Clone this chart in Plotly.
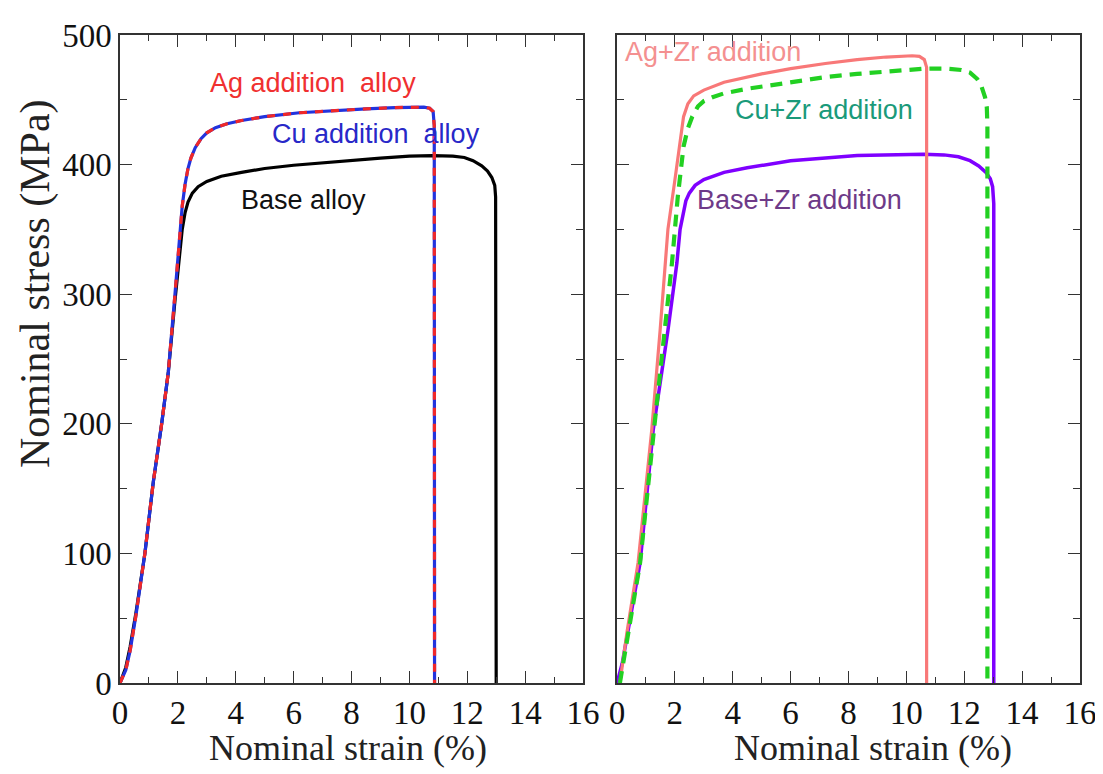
import plotly.graph_objects as go

# ---- data (nominal strain %, nominal stress MPa) ----
base_x = [0, 0.2, 0.35, 0.55, 0.86, 1.15, 1.44, 1.67, 1.9, 2.05, 2.15, 2.25, 2.35, 2.5, 2.7, 3.0, 3.5, 4.2, 5.0, 6.0, 7.0, 8.0, 9.0, 10.0, 10.8, 11.5, 11.9, 12.2, 12.5, 12.7, 12.85, 12.95, 12.98, 13.0]
base_y = [0, 12, 28, 54, 100, 155, 200, 240, 295, 330, 350, 363, 371, 378, 383, 387, 391, 394, 397, 399.5, 401.5, 403.5, 405, 406.5, 407, 406.5, 405.5, 403, 399, 395, 390, 384, 375, 0]

addn_x = [0, 0.2, 0.35, 0.55, 0.86, 1.15, 1.44, 1.67, 1.9, 2.05, 2.15, 2.25, 2.35, 2.45, 2.6, 2.8, 3.0, 3.3, 3.7, 4.2, 5.0, 6.2, 7.5, 8.5, 9.5, 10.5, 10.7, 10.82, 10.86, 10.87]
addn_y = [0, 10, 25, 52, 100, 155, 200, 240, 300, 345, 368, 385, 397, 405, 413, 420, 424.5, 428.5, 431.5, 434, 437, 440, 442, 443, 444, 444.3, 443.5, 441, 430, 0]

agzr_x = [0.1, 0.35, 0.73, 1.2, 1.49, 1.76, 2.0, 2.15, 2.3, 2.45, 2.65, 3.0, 3.7, 5.0, 6.0, 7.2, 8.3, 9.3, 10.2, 10.45, 10.62, 10.7, 10.7]
agzr_y = [0, 40, 93, 195, 272, 350, 388, 415, 437, 447, 453, 457.5, 463.5, 470, 474, 478, 481, 483, 484, 483.5, 481, 475, 0]

cuzr_x = [0.1, 0.4, 0.8, 1.3, 1.66, 1.9, 2.1, 2.3, 2.45, 2.6, 2.8, 3.0, 3.3, 3.7, 4.5, 6.0, 7.2, 8.3, 9.5, 10.6, 11.4, 11.9, 12.2, 12.45, 12.6, 12.72, 12.78, 12.8, 12.8]
cuzr_y = [0, 40, 93, 200, 272, 324, 375, 414, 428, 437, 445, 449, 452, 455, 458.5, 463.5, 467.5, 470, 472.5, 474, 474, 473, 471, 466, 460, 452, 444, 430, 0]

bzr_x = [0, 0.18, 0.8, 1.25, 1.76, 2.07, 2.18, 2.28, 2.38, 2.5, 2.7, 3.0, 3.7, 4.5, 6.0, 8.3, 10.6, 11.3, 11.8, 12.2, 12.5, 12.75, 12.9, 12.98, 13.02, 13.02]
bzr_y = [0, 15, 93, 195, 272, 324, 350, 363, 372, 378, 384, 388.5, 394, 397.5, 403, 407, 408, 407.5, 406, 403, 399, 394, 389, 383, 370, 0]

x_ticks = [0, 2, 4, 6, 8, 10, 12, 14, 16]
y_ticks = [0, 100, 200, 300, 400, 500]

fig = go.Figure()

# left panel
fig.add_trace(go.Scatter(x=base_x, y=base_y, mode="lines", line=dict(color="black", width=3.2), xaxis="x", yaxis="y", showlegend=False))
fig.add_trace(go.Scatter(x=addn_x, y=addn_y, mode="lines", line=dict(color="#2233DD", width=3.2), xaxis="x", yaxis="y", showlegend=False))
fig.add_trace(go.Scatter(x=addn_x, y=addn_y, mode="lines", line=dict(color="#F02828", width=3.2, dash="8px,8px"), xaxis="x", yaxis="y", showlegend=False))

# right panel
fig.add_trace(go.Scatter(x=bzr_x, y=bzr_y, mode="lines", line=dict(color="#7F00FF", width=3.5), xaxis="x2", yaxis="y2", showlegend=False))
fig.add_trace(go.Scatter(x=agzr_x, y=agzr_y, mode="lines", line=dict(color="#F87878", width=3.2), xaxis="x2", yaxis="y2", showlegend=False))
fig.add_trace(go.Scatter(x=cuzr_x, y=cuzr_y, mode="lines", line=dict(color="#22D022", width=4.2, dash="12px,8px"), xaxis="x2", yaxis="y2", showlegend=False))

serif = "Liberation Serif, Times New Roman, serif"
axis_common = dict(
    showline=True, linecolor="#333", linewidth=1.5, mirror="allticks",
    ticks="inside", tickcolor="#333", tickwidth=1.3, ticklen=12,
    showgrid=False, zeroline=False, automargin=False,
)
xminor = dict(dtick=1, ticks="inside", ticklen=6, tickcolor="#333", tickwidth=1.2)
yminor = dict(dtick=50, ticks="inside", ticklen=7, tickcolor="#333", tickwidth=1.2)
xfont = dict(family=serif, size=33, color="#111")
yfont = dict(family=serif, size=33, color="#111")

fig.update_layout(
    width=1095, height=766,
    paper_bgcolor="white", plot_bgcolor="white",
    margin=dict(l=112, r=23, t=27, b=91),
    xaxis=dict(domain=[0, 0.4823], range=[0, 16], tickvals=x_ticks, minor=xminor, tickfont=xfont, **axis_common),
    yaxis=dict(domain=[0, 1], range=[0, 500], tickvals=y_ticks, minor=yminor, tickfont=yfont, **axis_common),
    xaxis2=dict(domain=[0.5177, 1], range=[0, 16], tickvals=x_ticks, anchor="y2", minor=xminor, tickfont=xfont, **axis_common),
    yaxis2=dict(domain=[0, 1], range=[0, 500], tickvals=y_ticks, anchor="x2", showticklabels=False, minor=yminor, **axis_common),
)

# axis titles
fig.add_annotation(xref="paper", yref="paper", x=0.2375, y=-0.1003, text="Nominal strain (%)", showarrow=False,
                   xanchor="center", yanchor="middle", font=dict(family=serif, size=36, color="#222"))
fig.add_annotation(xref="paper", yref="paper", x=0.784, y=-0.1003, text="Nominal strain (%)", showarrow=False,
                   xanchor="center", yanchor="middle", font=dict(family=serif, size=36, color="#222"))
fig.add_annotation(xref="paper", yref="paper", x=-0.0885, y=0.6157, text="Nominal stress (MPa)", showarrow=False,
                   textangle=-90, xanchor="center", yanchor="middle", font=dict(family=serif, size=42, color="#222"))

sans = "Liberation Sans, Arial, sans-serif"
labels = [
    ("x", "y", 3.05, 463, "Ag addition  alloy", "#F03030"),
    ("x", "y", 5.2, 424, "Cu addition  alloy", "#2828C8"),
    ("x", "y", 4.1, 373, "Base alloy", "#111111"),
    ("x2", "y2", 0.2, 487, "Ag+Zr addition", "#F49090"),
    ("x2", "y2", 4.0, 442, "Cu+Zr addition", "#1A9A7A"),
    ("x2", "y2", 2.7, 373, "Base+Zr addition", "#6E3A88"),
]
for xr, yr, xv, yv, txt, col in labels:
    fig.add_annotation(x=xv, y=yv, xref=xr, yref=yr, text=txt, showarrow=False,
                       xanchor="left", yanchor="middle",
                       font=dict(family=sans, size=27, color=col))

fig.write_html("out.html")
